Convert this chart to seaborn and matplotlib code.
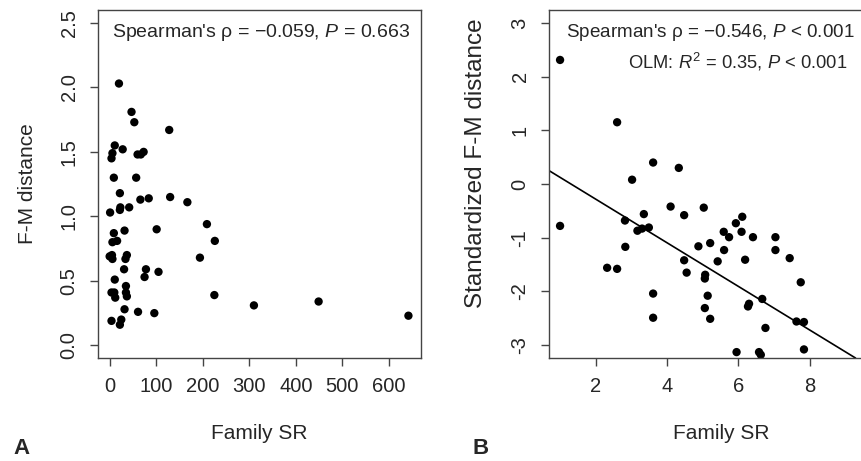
import matplotlib
matplotlib.use("Agg")
import matplotlib.pyplot as plt
import seaborn as sns
import pandas as pd

# Panel A: family SR vs F-M distance
sr_a = [20, 47, 53, 128, 11, 28, 6, 4, 60, 67, 73, 9, 57, 22, 66, 84, 130, 167,
        1, 22, 23, 42, 101, 209, 226, 9, 32, 6, 16, 0, 5, 6, 37, 34, 31, 194,
        78, 75, 105, 11, 4, 10, 12, 35, 35, 37, 225, 310, 449, 642, 32, 61, 96,
        4, 25, 22]
dist_a = [2.03, 1.81, 1.73, 1.67, 1.55, 1.52, 1.49, 1.45, 1.48, 1.48, 1.50, 1.30,
          1.30, 1.18, 1.13, 1.14, 1.15, 1.11, 1.03, 1.05, 1.07, 1.07, 0.90, 0.94,
          0.81, 0.87, 0.89, 0.80, 0.81, 0.69, 0.70, 0.67, 0.70, 0.67, 0.59, 0.68,
          0.59, 0.53, 0.57, 0.51, 0.41, 0.41, 0.37, 0.46, 0.41, 0.38, 0.39, 0.31,
          0.34, 0.23, 0.28, 0.26, 0.25, 0.19, 0.20, 0.16]

# Panel B: family SR vs standardized F-M distance
sr_b = [1.0, 1.0, 2.60, 3.61, 4.33, 3.02, 4.10, 4.48, 5.03, 3.35, 2.82, 3.17, 3.30,
        3.49, 2.83, 2.32, 2.60, 3.61, 3.61, 4.48, 4.55, 4.88, 5.21, 5.07, 5.06,
        5.14, 5.06, 5.21, 5.42, 5.59, 5.74, 5.60, 5.93, 6.11, 6.09, 6.41, 6.19,
        6.27, 6.30, 6.67, 6.76, 5.95, 6.58, 6.63, 7.04, 7.04, 7.44, 7.75, 7.63,
        7.84, 7.84]
dist_b = [2.31, -0.78, 1.15, 0.40, 0.30, 0.08, -0.42, -0.58, -0.44, -0.56, -0.68,
          -0.87, -0.83, -0.81, -1.17, -1.56, -1.58, -2.04, -2.49, -1.42, -1.65,
          -1.16, -1.10, -1.69, -1.76, -2.08, -2.31, -2.51, -1.44, -0.89, -0.99,
          -1.23, -0.73, -0.61, -0.89, -0.99, -1.41, -2.28, -2.23, -2.14, -2.68,
          -3.13, -3.13, -3.18, -0.99, -1.23, -1.38, -1.83, -2.56, -2.57, -3.08]

# OLM fit line
ols_intercept = 0.53
ols_slope = -0.406

df_a = pd.DataFrame({"sr": sr_a, "dist": dist_a})
df_b = pd.DataFrame({"sr": sr_b, "dist": dist_b})

sns.set_style("white")
plt.rcParams["font.family"] = ["Liberation Sans", "DejaVu Sans"]
plt.rcParams["mathtext.fontset"] = "custom"
plt.rcParams["mathtext.rm"] = "Liberation Sans"
plt.rcParams["mathtext.it"] = "Liberation Sans:italic"

fig = plt.figure(figsize=(8.62, 4.61), dpi=100)
ax1 = fig.add_axes([0.1137, 0.2234, 0.3747, 0.7549])
ax2 = fig.add_axes([0.6369, 0.2234, 0.40, 0.7549])

sns.scatterplot(x="sr", y="dist", data=df_a, ax=ax1, color="black", s=36,
                edgecolor="none")
sns.scatterplot(x="sr", y="dist", data=df_b, ax=ax2, color="black", s=36,
                edgecolor="none")
ax2.axline((0, ols_intercept), slope=ols_slope, color="black", lw=1.2)

ax1.set_xlim(-25, 669)
ax1.set_ylim(-0.098, 2.60)
ax1.set_xticks([0, 100, 200, 300, 400, 500, 600])
ax1.set_yticks([0.0, 0.5, 1.0, 1.5, 2.0, 2.5])
ax1.set_yticklabels(["0.0", "0.5", "1.0", "1.5", "2.0", "2.5"])

ax2.set_xlim(0.69, 10.36)
ax2.set_ylim(-3.24, 3.24)
ax2.set_xticks([2, 4, 6, 8])
ax2.set_yticks([-3, -2, -1, 0, 1, 2, 3])
ax2.set_yticklabels(["-3", "-2", "-1", "0", "1", "2", "3"])

for ax in (ax1, ax2):
    for sp in ax.spines.values():
        sp.set_visible(True)
        sp.set_color("#444444")
        sp.set_linewidth(1.0)
    ax.tick_params(direction="out", length=6, width=1, color="#444444",
                   labelsize=14.5, pad=8, bottom=True, left=True)
    for lab in ax.get_yticklabels():
        lab.set_rotation(90)
        lab.set_va("center")
    ax.set_xlabel("Family SR", fontsize=15, labelpad=20)

ax1.set_ylabel("F-M distance", fontsize=15)
ax1.yaxis.set_label_coords(-0.19, 0.5)
ax2.set_ylabel("Standardized F-M distance", fontsize=17.5)
ax2.yaxis.set_label_coords(-0.18, 0.56)

ax1.text(0.965, 0.935, "Spearman's ρ = −0.059, $P$ = 0.663", transform=ax1.transAxes,
         ha="right", va="center", fontsize=14)
ax2.text(0.888, 0.935, "Spearman's ρ = −0.546, $P$ < 0.001",
         transform=ax2.transAxes, ha="right", va="center", fontsize=13.6)
ax2.text(0.866, 0.85, "OLM: $R^2$ = 0.35, $P$ < 0.001", transform=ax2.transAxes,
         ha="right", va="center", fontsize=13.2)

fig.text(0.025, 0.005, "A", fontsize=16, fontweight="bold", ha="center", va="bottom")
fig.text(0.557, 0.005, "B", fontsize=16, fontweight="bold", ha="center", va="bottom")

fig.savefig("out.png", dpi=100)
